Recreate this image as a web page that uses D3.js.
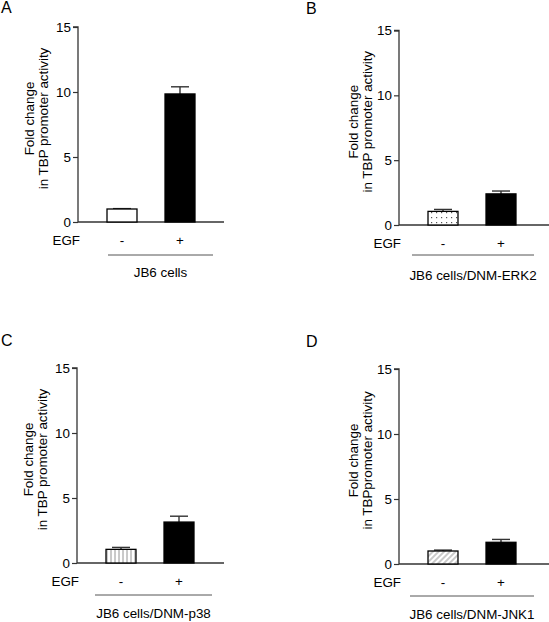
<!DOCTYPE html>
<html><head><meta charset="utf-8">
<script src="https://cdn.jsdelivr.net/npm/d3@7"></script>
<style>body{margin:0;background:#fff}svg{display:block}text{font-family:"Liberation Sans",Arial,sans-serif;fill:#000}</style>
</head><body><div id="c"></div>
<script>
// ---- data ----
const panelLetters = ["A","B","C","D"];
const groupLabels = ["JB6 cells","JB6 cells/DNM-ERK2","JB6 cells/DNM-p38","JB6 cells/DNM-JNK1"];
const yTitleLine1 = ["Fold change","Fold change","Fold change","Fold change"];
const yTitleLine2 = ["in TBP promoter activity","in TBP promoter activity","in TBP promoter activity","in TBPpromoter activity"];
const egfCategories = ["-","+"];
const meansMinus = [1.0, 1.05, 1.05, 1.0];
const meansPlus  = [9.85, 2.4, 3.15, 1.67];
const errMinus = [0.03, 0.15, 0.15, 0.07];
const errPlus  = [0.55, 0.22, 0.45, 0.22];
const yTicks = [0,5,10,15];
const fills = ["plain","dots","vstripes","hatch"];

// ---- layout ----
const layout = [
  {ax:78,  yTop:27,  yBot:222, axisLen:146, ulStart:30, lx:1,   ly:13},
  {ax:399, yTop:30.5,yBot:225, axisLen:152, ulStart:13, lx:306, ly:14},
  {ax:77,  yTop:368, yBot:563, axisLen:147, ulStart:18, lx:1,   ly:346},
  {ax:399, yTop:369, yBot:564, axisLen:152, ulStart:11, lx:306, ly:347}
];
const W=549,H=622;
const svg=d3.select("#c").append("svg").attr("width",W).attr("height",H);
const defs=svg.append("defs");
// patterns
const pd=defs.append("pattern").attr("id","dots").attr("patternUnits","userSpaceOnUse").attr("width",5).attr("height",5);
pd.append("rect").attr("width",5).attr("height",5).attr("fill","#fff");
pd.append("rect").attr("x",2).attr("y",2).attr("width",1.2).attr("height",1.2).attr("fill","#555");
const pv=defs.append("pattern").attr("id","vstripes").attr("patternUnits","userSpaceOnUse").attr("width",4).attr("height",4);
pv.append("rect").attr("width",4).attr("height",4).attr("fill","#fff");
pv.append("line").attr("x1",2).attr("x2",2).attr("y1",0).attr("y2",4).attr("stroke","#777").attr("stroke-width",0.8);
const ph=defs.append("pattern").attr("id","hatch").attr("patternUnits","userSpaceOnUse").attr("width",4).attr("height",4).attr("patternTransform","rotate(45)");
ph.append("rect").attr("width",4).attr("height",4).attr("fill","#fff");
ph.append("line").attr("x1",2).attr("x2",2).attr("y1",0).attr("y2",4).attr("stroke","#888").attr("stroke-width",0.9);

const FS=13.4;
panelLetters.forEach((L,i)=>{
  const lo=layout[i];
  svg.append("text").attr("x",lo.lx).attr("y",lo.ly).attr("font-size",16).text(L);
  const g=svg.append("g").attr("transform",`translate(${lo.ax},0)`);
  const y=d3.scaleLinear().domain([0,15]).range([lo.yBot,lo.yTop]);
  const x=d3.scaleBand().domain(egfCategories).range([0,146]).paddingInner(0.483).paddingOuter(0.5);
  const yAxis=d3.axisLeft(y).tickValues(yTicks).tickSize(5).tickPadding(2);
  const ya=g.append("g").call(yAxis);
  ya.select(".domain").attr("stroke","#333").attr("stroke-width",1.3).attr("d",`M-5,${lo.yTop}H0V${lo.yBot}`);
  ya.selectAll(".tick line").attr("stroke","#333").attr("stroke-width",1.2);
  ya.selectAll(".tick text").attr("font-size",FS).attr("font-family","Liberation Sans, Arial, sans-serif").attr("fill","#000");
  // x axis line
  g.append("line").attr("x1",0).attr("x2",lo.axisLen).attr("y1",lo.yBot).attr("y2",lo.yBot).attr("stroke","#333").attr("stroke-width",1.5);
  const vals=[meansMinus[i],meansPlus[i]], errs=[errMinus[i],errPlus[i]];
  egfCategories.forEach((c,k)=>{
    const cx=x(c)+x.bandwidth()/2;
    // error bar (upper)
    g.append("line").attr("x1",cx).attr("x2",cx).attr("y1",y(vals[k])).attr("y2",y(vals[k]+errs[k])).attr("stroke","#333").attr("stroke-width",1.4);
    g.append("line").attr("x1",cx-9).attr("x2",cx+9).attr("y1",y(vals[k]+errs[k])).attr("y2",y(vals[k]+errs[k])).attr("stroke","#333").attr("stroke-width",1.4);
    let fill = k===1 ? "#000" : (fills[i]==="plain" ? "#fff" : `url(#${fills[i]})`);
    g.append("rect").attr("x",x(c)).attr("width",x.bandwidth()).attr("y",y(vals[k])).attr("height",y(0)-y(vals[k]))
      .attr("fill",fill).attr("stroke","#000").attr("stroke-width",1.3);
    g.append("text").attr("x",cx).attr("y",lo.yBot+23).attr("text-anchor","middle").attr("font-size",FS).text(c);
  });
  g.append("text").attr("x",2).attr("y",lo.yBot+23).attr("text-anchor","end").attr("font-size",FS).text("EGF");
  // underline + group label
  const ulY=lo.yBot+(i===0?33:(i===1?30:32));
  g.append("line").attr("x1",lo.ulStart).attr("x2",135).attr("y1",ulY).attr("y2",ulY).attr("stroke","#555").attr("stroke-width",1);
  g.append("text").attr("x",(lo.ulStart+135)/2).attr("y",lo.yBot+55).attr("text-anchor","middle").attr("font-size",FS).text(groupLabels[i]);
  // y title
  const cy=(lo.yTop+lo.yBot)/2-6;
  const dx1 = (i%2===0)?-44:-41, dx2=(i%2===0)?-30.5:-27;
  g.append("text").attr("transform",`translate(${dx1},${cy}) rotate(-90)`).attr("text-anchor","middle").attr("font-size",FS).text(yTitleLine1[i]);
  g.append("text").attr("transform",`translate(${dx2},${cy}) rotate(-90)`).attr("text-anchor","middle").attr("font-size",FS).text(yTitleLine2[i]);
});
</script></body></html>
